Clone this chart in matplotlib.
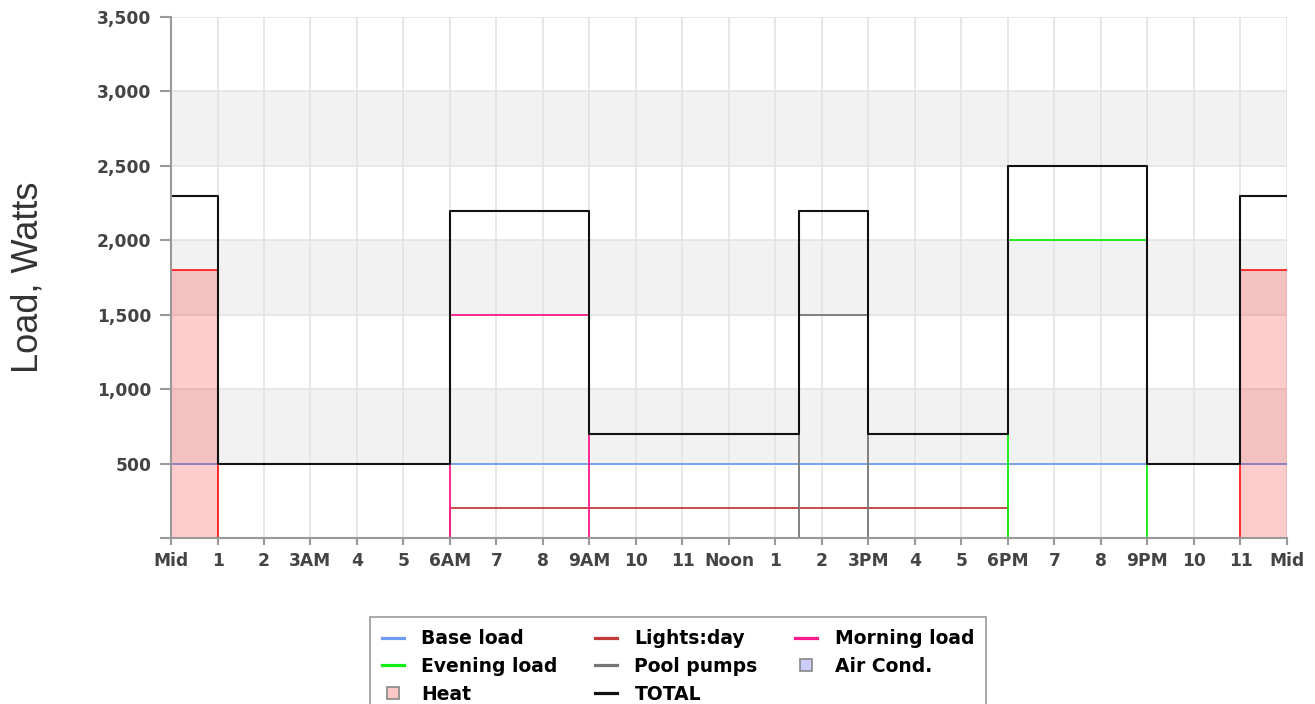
import numpy as np
import matplotlib
matplotlib.use("Agg")
import matplotlib.pyplot as plt
from matplotlib.lines import Line2D
from matplotlib.ticker import FuncFormatter

# Hour-of-day tick labels (0 .. 24)
hour_ticks = list(range(25))
hour_labels = ["Mid", "1", "2", "3AM", "4", "5", "6AM", "7", "8", "9AM", "10", "11",
               "Noon", "1", "2", "3PM", "4", "5", "6PM", "7", "8", "9PM", "10", "11", "Mid"]

# Load components as (start hour, end hour, watts)
base_load = [(0, 24, 500)]
lights_day = [(6, 18, 200)]
morning_load = [(6, 9, 1500)]
evening_load = [(18, 21, 2000)]
pool_pumps = [(13.5, 15, 1500)]
air_cond = []
heat = [(0, 1, 1800), (23, 24, 1800)]

components = [base_load, lights_day, morning_load, evening_load, pool_pumps, air_cond, heat]
edges = sorted({0, 24} | {t for comp in components for s, e, _ in comp for t in (s, e)})


def profile(segments):
    vals = [sum(w for s, e, w in segments if s <= left < e) for left in edges[:-1]]
    return np.array(vals + [vals[-1]], dtype=float)


prof = {name: profile(seg) for name, seg in [
    ("Base load", base_load), ("Lights:day", lights_day), ("Morning load", morning_load),
    ("Evening load", evening_load), ("Pool pumps", pool_pumps),
    ("Air Cond.", air_cond), ("Heat", heat)]}
total = sum(prof.values())

colors = {
    "Base load": "#6f9cf0",
    "Lights:day": "#c23a3c",
    "Morning load": "#ff1a8c",
    "Evening load": "#11ee11",
    "Pool pumps": "#777777",
    "Air Cond.": "#ccccff",
    "Heat": "#ff2020",
    "TOTAL": "#111111",
}

fig = plt.figure(figsize=(13.15, 7.04), dpi=100)
W, H = 1315, 704
ax = fig.add_axes([171 / W, 1 - 538 / H, (1287 - 171) / W, (538 - 17) / H])

# alternating background bands
for lo in (500, 1500, 2500):
    ax.axhspan(lo, lo + 500, color="#f2f2f2", zorder=0, linewidth=0)

ax.set_axisbelow(True)
ax.grid(True, color="#e2e2e2", linewidth=1.1, zorder=0.5)

x = np.array(edges, dtype=float)
for name in ["Base load", "Lights:day", "Morning load", "Evening load", "Pool pumps"]:
    ax.plot(x, prof[name], drawstyle="steps-post", color=colors[name], lw=1.3, zorder=2)

ax.fill_between(x, prof["Air Cond."], step="post", color=colors["Air Cond."],
                alpha=0.5, linewidth=0, zorder=2.05)
ax.fill_between(x, prof["Heat"], step="post", color="#ff0000", alpha=0.2,
                linewidth=0, zorder=2.1)
ax.plot(x, prof["Heat"], drawstyle="steps-post", color=colors["Heat"], lw=1.3, zorder=2.2)
ax.plot(x, total, drawstyle="steps-post", color=colors["TOTAL"], lw=1.5, zorder=2.3)

ax.set_xlim(0, 24)
ax.set_ylim(0, 3500)
ax.set_xticks(hour_ticks)
ax.set_xticklabels(hour_labels)
ax.set_yticks(np.arange(0, 3501, 500))
ax.yaxis.set_major_formatter(FuncFormatter(lambda v, p: "" if v == 0 else f"{int(v):,}"))

for lab in ax.get_xticklabels() + ax.get_yticklabels():
    lab.set_fontfamily("DejaVu Sans")
    lab.set_fontweight("bold")
    lab.set_fontsize(12.3)
    lab.set_color("#444444")

ax.tick_params(axis="x", length=5, width=1.5, color="#999999", pad=5)
ax.tick_params(axis="y", length=8, width=1.5, color="#999999", pad=6)

for side in ("top", "right"):
    ax.spines[side].set_visible(False)
for side in ("left", "bottom"):
    ax.spines[side].set_color("#999999")
    ax.spines[side].set_linewidth(1.5)
    ax.spines[side].set_zorder(3)

ax.set_ylabel("Load, Watts", fontfamily="Liberation Sans", fontsize=26, color="#333333",
              va="center")
ax.yaxis.set_label_coords(-(171 - 28) / (1287 - 171), 0.5)


def line_handle(c):
    return Line2D([], [], color=c, lw=2.3)


def box_handle(c):
    return Line2D([], [], marker="s", linestyle="none", markersize=8.5,
                  markerfacecolor=c, markeredgecolor="#888888", markeredgewidth=1.2)


handles = [
    (line_handle(colors["Base load"]), "Base load"),
    (line_handle(colors["Evening load"]), "Evening load"),
    (box_handle("#ffc8c8"), "Heat"),
    (line_handle(colors["Lights:day"]), "Lights:day"),
    (line_handle(colors["Pool pumps"]), "Pool pumps"),
    (line_handle(colors["TOTAL"]), "TOTAL"),
    (line_handle(colors["Morning load"]), "Morning load"),
    (box_handle(colors["Air Cond."]), "Air Cond."),
]

leg = fig.legend([h for h, _ in handles], [l for _, l in handles], ncol=3,
                 loc="upper center", bbox_to_anchor=(678 / W, 1 - 617 / H),
                 prop=dict(family="DejaVu Sans", weight="bold", size=13.5),
                 frameon=True, fancybox=False, edgecolor="#999999", framealpha=1,
                 handlelength=1.17, handletextpad=0.93, columnspacing=2.0,
                 labelspacing=0.47, borderpad=0.65, borderaxespad=0)
leg.get_frame().set_linewidth(1.2)

fig.savefig("out.png", dpi=100)
